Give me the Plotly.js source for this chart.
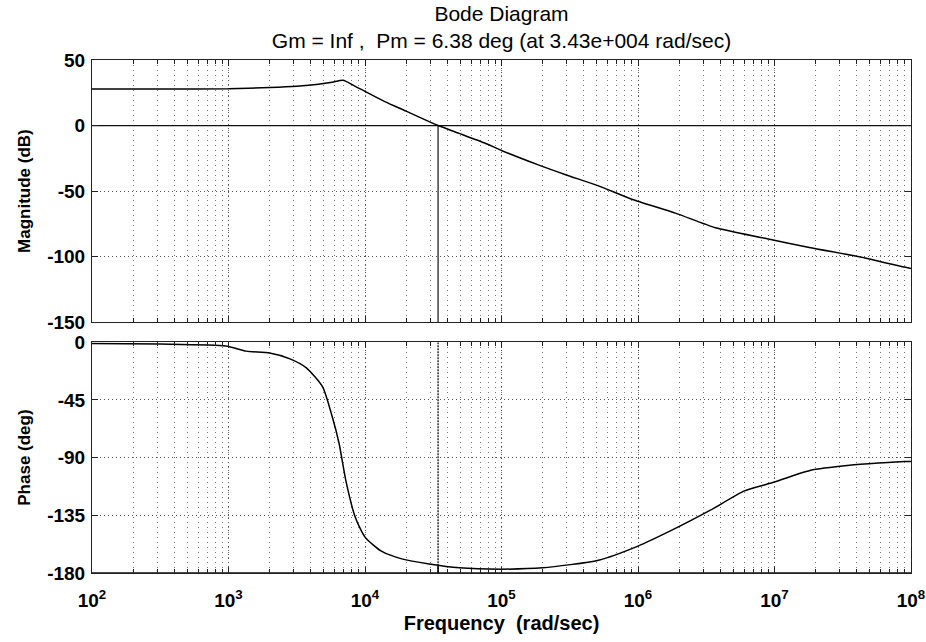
<!DOCTYPE html>
<html><head><meta charset="utf-8">
<script src="https://cdn.plot.ly/plotly-3.0.1.min.js"></script>
<style>html,body{margin:0;padding:0;background:#fff}#plot{width:926px;height:642px}</style>
</head><body><div id="plot"></div>
<script>
// Magnitude curve (rad/sec, dB)
const magFreq = [100, 316, 1000, 2000, 3160, 4570, 5750, 6900, 8300, 10000, 14100, 20000, 30900, 34300, 49000, 75900, 100000, 186000, 295000, 513000, 891000, 1.9e6, 3.7e6, 8.5e6, 1.8e7, 4.6e7, 8.9e7, 1e8];
const magDb   = [27.8, 27.8, 28.0, 29.0, 30.0, 31.5, 33.0, 34.6, 30.5, 26.0, 18.0, 11.0, 2.0, 0.0, -6.0, -13.5, -19.0, -30.0, -37.5, -46.0, -56.0, -67.0, -78.0, -86.0, -93.0, -101.0, -108.0, -109.0];
// Phase curve (rad/sec, deg)
const phaseFreq = [100, 316, 955, 1350, 2000, 2820, 3720, 4900, 5750, 6460, 7240, 8510, 10000, 13200, 18600, 29500, 49000, 100000, 200000, 513000, 1e6, 1.74e6, 3.39e6, 6.03e6, 9.33e6, 1.82e7, 3.55e7, 8.9e7, 1e8];
const phaseDeg  = [-1, -1.5, -3, -7, -8.5, -13, -20, -35, -58, -79, -108, -137, -152, -163, -169, -173, -176, -177, -176, -170, -159, -147, -131, -116, -110, -100, -96, -93, -93];
// Axis labels
const xTickVals = [1e2, 1e3, 1e4, 1e5, 1e6, 1e7, 1e8];
const xTickText = ['10<sup>2</sup>', '10<sup>3</sup>', '10<sup>4</sup>', '10<sup>5</sup>', '10<sup>6</sup>', '10<sup>7</sup>', '10<sup>8</sup>'];
const magTicks = [50, 0, -50, -100, -150];
const magTickText = ['50', '0', '-50', '-100', '-150'];
const phaseTicks = [0, -45, -90, -135, -180];
const phaseTickText = ['0', '-45', '-90', '-135', '-180'];
// Margins (from title)
const crossFreq = 3.43e4;
const phaseMargin = 6.38;
const gainRef = 0;
const phaseRef = -180;
const freqEnds = [1e2, 1e8];
const magRange = [-150, 50];
const phaseRange = [-180, 0];

const black = '#000';
const traces = [
  {x: freqEnds, y: [gainRef, gainRef], xaxis: 'x', yaxis: 'y', mode: 'lines', line: {color: '#111', width: 1.3}, hoverinfo: 'skip'},
  {x: [crossFreq, crossFreq], y: [gainRef, magRange[0]], xaxis: 'x', yaxis: 'y', mode: 'lines', line: {color: '#111', width: 1.2}, hoverinfo: 'skip'},
  {x: magFreq, y: magDb, xaxis: 'x', yaxis: 'y', mode: 'lines', line: {color: black, width: 1.5, shape: 'spline', smoothing: 0.6}},
  {x: freqEnds, y: [phaseRef, phaseRef], xaxis: 'x2', yaxis: 'y2', mode: 'lines', line: {color: '#111', width: 1.3}, hoverinfo: 'skip'},
  {x: [crossFreq, crossFreq], y: [phaseRange[1], phaseRef], xaxis: 'x2', yaxis: 'y2', mode: 'lines', line: {color: '#222', width: 1.4, dash: '2px,1px'}, hoverinfo: 'skip'},
  {x: [crossFreq, crossFreq], y: [phaseRef, phaseRef + phaseMargin], xaxis: 'x2', yaxis: 'y2', mode: 'lines', line: {color: black, width: 1.5}, hoverinfo: 'skip'},
  {x: phaseFreq, y: phaseDeg, xaxis: 'x2', yaxis: 'y2', mode: 'lines', line: {color: black, width: 1.5, shape: 'spline', smoothing: 0.6}}
];

const FONT = 'Liberation Sans, Arial, sans-serif';
const tickFont = {family: FONT, size: 19, color: '#000', weight: 'bold'};
const xTickFont = {family: FONT, size: 19, color: '#000', weight: 'bold'};
const gridCommon = {gridcolor: '#555', gridwidth: 1, griddash: '1px,3px'};
const minorX = {dtick: 'D1', ticks: 'inside', ticklen: 4, tickcolor: '#222', showgrid: true, gridcolor: '#777', gridwidth: 1, griddash: '1px,4px'};

const xBase = {
  type: 'log', range: [2, 8], tickmode: 'array', tickvals: xTickVals, ticktext: xTickText,
  ticks: 'inside', ticklen: 6, tickcolor: '#222', showline: true, linecolor: '#222', linewidth: 1, mirror: 'ticks',
  showgrid: true, ...gridCommon, minor: minorX, tickfont: xTickFont, zeroline: false, ticklabeloverflow: 'allow'
};
const yBase = {
  ticks: 'inside', ticklen: 6, tickcolor: '#222', showline: true, linecolor: '#222', mirror: 'ticks',
  showgrid: true, ...gridCommon, zeroline: false, tickfont: tickFont, tickmode: 'array', ticklabelstandoff: 2
};

const layout = {
  width: 926, height: 642,
  margin: {l: 92, r: 15, t: 60, b: 69},
  paper_bgcolor: '#fff', plot_bgcolor: '#fff',
  showlegend: false,
  title: {text: 'Bode Diagram<br>Gm = Inf ,  Pm = 6.38 deg (at 3.43e+004 rad/sec)', x: 0.5, xref: 'paper', y: 0.968, yref: 'container', yanchor: 'top',
          font: {family: FONT, size: 21, color: '#000'}},
  xaxis: {...xBase, anchor: 'y', showticklabels: false},
  xaxis2: {...xBase, anchor: 'y2', matches: 'x', ticklabelstandoff: 10,
           title: {text: 'Frequency  (rad/sec)', standoff: 6, font: {family: FONT, size: 20, color: '#000', weight: 'bold'}}},
  yaxis: {...yBase, domain: [0.489, 1], range: magRange, tickvals: magTicks, ticktext: magTickText,
          title: {text: 'Magnitude (dB)', standoff: 12, font: {family: FONT, size: 17, color: '#000', weight: 'bold'}}},
  yaxis2: {...yBase, domain: [0, 0.45], range: phaseRange, tickvals: phaseTicks, ticktext: phaseTickText,
           title: {text: 'Phase (deg)', standoff: 12, font: {family: FONT, size: 17, color: '#000', weight: 'bold'}}}
};

Plotly.newPlot('plot', traces, layout, {staticPlot: true, displayModeBar: false});
</script>
</body></html>
